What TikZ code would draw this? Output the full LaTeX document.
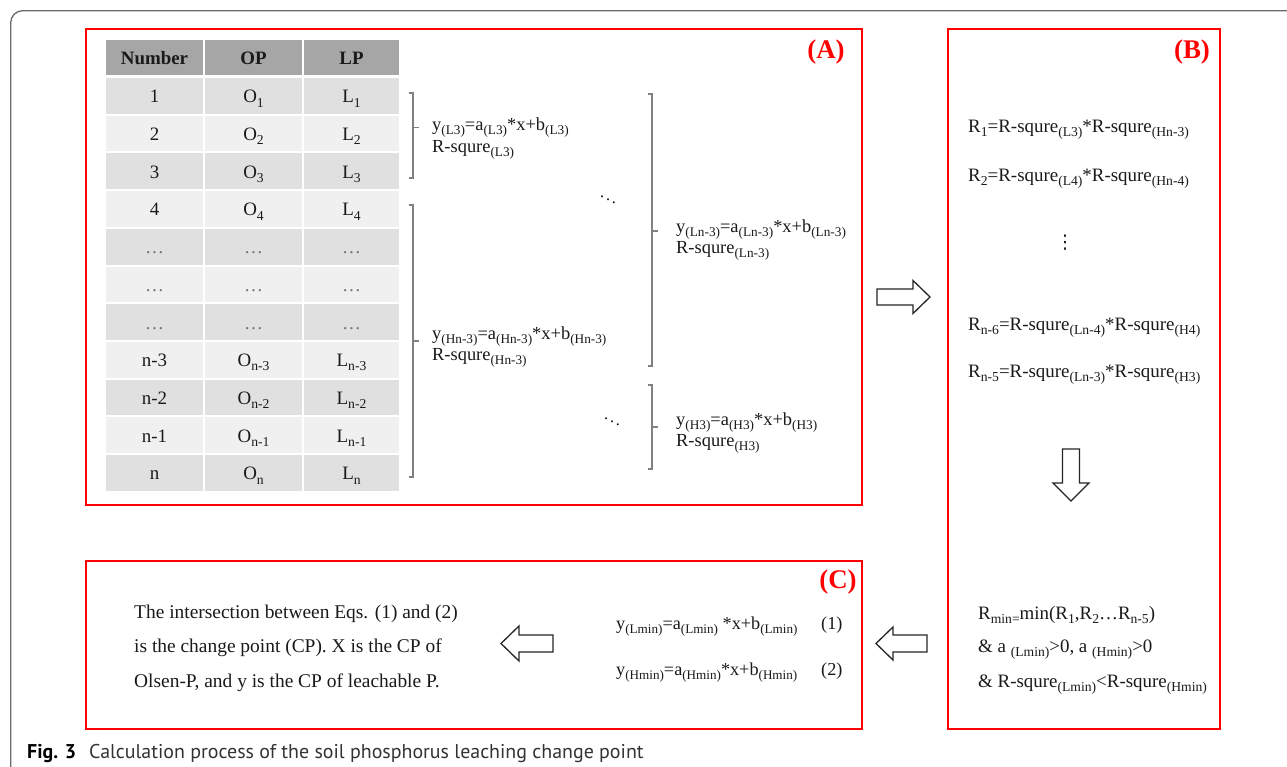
\documentclass[tikz,border=0pt]{standalone}
\usepackage{fontspec}
\setmainfont{Liberation Serif}
\newfontfamily\capfont{PT Sans}
\newfontfamily\symfont{DejaVu Sans}
\usetikzlibrary{calc}
\definecolor{rowdark}{HTML}{E0E0E0}
\definecolor{rowlight}{HTML}{F0F0F0}
\definecolor{headcol}{HTML}{A6A6A6}
\definecolor{framecol}{HTML}{6B6B6B}
\definecolor{inkcol}{HTML}{1A1A1A}
\definecolor{capcol}{HTML}{333333}
\definecolor{brcol}{HTML}{808080}
\makeatletter
\newcommand\sbs[1]{\raisebox{-0.22em}{\fontsize{\fpeval{round(0.72*\f@size,2)}}{1}\selectfont #1}}
\makeatother
\newcommand\setfs[1]{\fontsize{#1}{#1}\selectfont}
\newcommand\tdots{{\color{black!55}\ldots}}
\begin{document}
\begin{tikzpicture}[x=1bp,y=-1bp,
  redbox/.style={draw=red, line width=1.6bp},
  lab/.style={text=red, font=\setfs{27}\bfseries, inner sep=0},
  cell/.style={minimum height=35.7bp, inner sep=0, text height=14bp, text depth=0bp, font=\setfs{19}, text=inkcol},
  hcell/.style={cell, fill=headcol, minimum height=35bp, font=\setfs{19}\bfseries},
  brk/.style={draw=brcol, line width=1.1bp},
  eqA/.style={anchor=base west, inner sep=0, font=\setfs{18.5}, text=inkcol},
  eqB/.style={anchor=base west, inner sep=0, font=\setfs{19}, text=inkcol},
  eqC/.style={anchor=base west, inner sep=0, font=\setfs{18.3}, text=inkcol},
  ctext/.style={anchor=base west, inner sep=0, font=\setfs{19.5}, text=inkcol},
  blockarrow/.style={draw=black!85, line width=1.3bp, fill=white, line join=miter}
]
\useasboundingbox (0,0) rectangle (1287,767);
\fill[white] (0,0) rectangle (1287,767);

% outer frame
\draw[framecol, line width=1.3bp, rounded corners=12bp] (10.7,767) -- (10.7,10.7) -- (1287,10.7);

% panels
\draw[redbox] (86,29) rectangle (862,505);
\draw[redbox] (948,29) rectangle (1220,729);
\draw[redbox] (86,561) rectangle (862,729);
\node[lab] (labA) at (826,52) {(A)};
\node[lab] (labB) at (1192,52) {(B)};
\node[lab] (labC) at (838,582) {(C)};

% table header
\node[hcell, minimum width=97bp] (hN) at (154.5,57.5) {Number};
\node[hcell, minimum width=97bp] (hO) at (253.5,57.5) {OP};
\node[hcell, minimum width=95bp] (hL) at (351.5,57.5) {LP};

% table rows
\foreach \i/\n/\o/\l/\cl in {
  1/1/O\sbs{1}/L\sbs{1}/rowdark,
  2/2/O\sbs{2}/L\sbs{2}/rowlight,
  3/3/O\sbs{3}/L\sbs{3}/rowdark,
  4/4/O\sbs{4}/L\sbs{4}/rowlight,
  5/\tdots/\tdots/\tdots/rowdark,
  6/\tdots/\tdots/\tdots/rowlight,
  7/\tdots/\tdots/\tdots/rowdark,
  8/n-3/O\sbs{n-3}/L\sbs{n-3}/rowlight,
  9/n-2/O\sbs{n-2}/L\sbs{n-2}/rowdark,
  10/n-1/O\sbs{n-1}/L\sbs{n-1}/rowlight,
  11/n/O\sbs{n}/L\sbs{n}/rowdark}{
  \pgfmathsetmacro\yy{78+(\i-1)*37.7+17.85}
  \node[cell, fill=\cl, minimum width=97bp] (num\i) at (154.5,\yy) {\n};
  \node[cell, fill=\cl, minimum width=97bp] (op\i) at (253.5,\yy) {\o};
  \node[cell, fill=\cl, minimum width=95bp] (lp\i) at (351.5,\yy) {\l};
}

% brackets
\draw[brk] (409,93) -- (413,93) -- (413,178) -- (409,178);
\draw[brk] (413,127.5) -- (419,127.5);
\draw[brk] (409,205) -- (413,205) -- (413,477) -- (409,477);
\draw[brk] (413,341) -- (419,341);
\draw[brk] (648,94) -- (652,94) -- (652,366) -- (648,366);
\draw[brk] (652,231) -- (658,231);
\draw[brk] (648,385) -- (652,385) -- (652,469) -- (648,469);
\draw[brk] (652,427) -- (658,427);

% regression texts
\node[eqA] (eL3) at (432,130) {y\sbs{(L3)}=a\sbs{(L3)}*x+b\sbs{(L3)}};
\node[eqA] (rL3) at (432,152) {R-squre\sbs{(L3)}};
\node[eqA] (eHn) at (432,339) {y\sbs{(Hn-3)}=a\sbs{(Hn-3)}*x+b\sbs{(Hn-3)}};
\node[eqA] (rHn) at (432,360) {R-squre\sbs{(Hn-3)}};
\node[eqA] (eLn) at (676,232) {y\sbs{(Ln-3)}=a\sbs{(Ln-3)}*x+b\sbs{(Ln-3)}};
\node[eqA] (rLn) at (676,253) {R-squre\sbs{(Ln-3)}};
\node[eqA] (eH3) at (676,425) {y\sbs{(H3)}=a\sbs{(H3)}*x+b\sbs{(H3)}};
\node[eqA] (rH3) at (676,446) {R-squre\sbs{(H3)}};
\node[inner sep=0, font=\setfs{16}] (dd1) at (608,197) {$\ddots$};
\node[inner sep=0, font=\setfs{16}] (dd2) at (612,419) {$\ddots$};

% panel B
\node[eqB] (R1) at (968,132) {R\sbs{1}=R-squre\sbs{(L3)}*R-squre\sbs{(Hn-3)}};
\node[eqB] (R2) at (968,181) {R\sbs{2}=R-squre\sbs{(L4)}*R-squre\sbs{(Hn-4)}};
\node[inner sep=0, font=\symfont\setfs{19}, text=inkcol] (vd) at (1065,243) {⋮};
\node[eqB] (Rn6) at (968,330) {R\sbs{n-6}=R-squre\sbs{(Ln-4)}*R-squre\sbs{(H4)}};
\node[eqB] (Rn5) at (968,377) {R\sbs{n-5}=R-squre\sbs{(Ln-3)}*R-squre\sbs{(H3)}};
\node[eqB] (Rmin) at (978,619) {R\sbs{min=}min(R\sbs{1},R\sbs{2}\ldots R\sbs{n-5})};
\node[eqB] (cond1) at (978,652) {\& a \sbs{(Lmin)}>0, a \sbs{(Hmin)}>0};
\node[eqB] (cond2) at (978,687) {\& R-squre\sbs{(Lmin)}<R-squre\sbs{(Hmin)}};

% panel C
\node[ctext] (ct1) at (134,618) {The intersection between Eqs. (1) and (2)};
\node[ctext] (ct2) at (134,652) {is the change point (CP). X is the CP of};
\node[ctext] (ct3) at (134,687) {Olsen-P, and y is the CP of leachable P.};
\node[eqC] (eq1) at (616,629) {y\sbs{(Lmin)}=a\sbs{(Lmin)} *x+b\sbs{(Lmin)}};
\node[eqC] (eq1n) at (821,629) {(1)};
\node[eqC] (eq2) at (616,675) {y\sbs{(Hmin)}=a\sbs{(Hmin)}*x+b\sbs{(Hmin)}};
\node[eqC] (eq2n) at (821,675) {(2)};

% block arrows
\draw[blockarrow] (877,289) -- (913,289) -- (913,280.5) -- (930,297) -- (913,313.5) -- (913,305) -- (877,305) -- cycle;
\draw[blockarrow] (1062.5,449) -- (1079.5,449) -- (1079.5,483) -- (1089,483) -- (1071,501) -- (1053,483) -- (1062.5,483) -- cycle;
\draw[blockarrow] (927,635) -- (893,635) -- (893,627) -- (876,643.5) -- (893,660) -- (893,652) -- (927,652) -- cycle;
\draw[blockarrow] (553,635) -- (519,635) -- (519,626) -- (501,643.5) -- (519,661) -- (519,652) -- (553,652) -- cycle;

% caption
\node[anchor=base west, inner sep=0, font=\capfont\setfs{20}\bfseries] (fig) at (27,758) {Fig. 3};
\node[anchor=base west, inner sep=0, font=\capfont\setfs{20}, text=capcol] (cap) at (89,758) {Calculation process of the soil phosphorus leaching change point};
\end{tikzpicture}
\end{document}
